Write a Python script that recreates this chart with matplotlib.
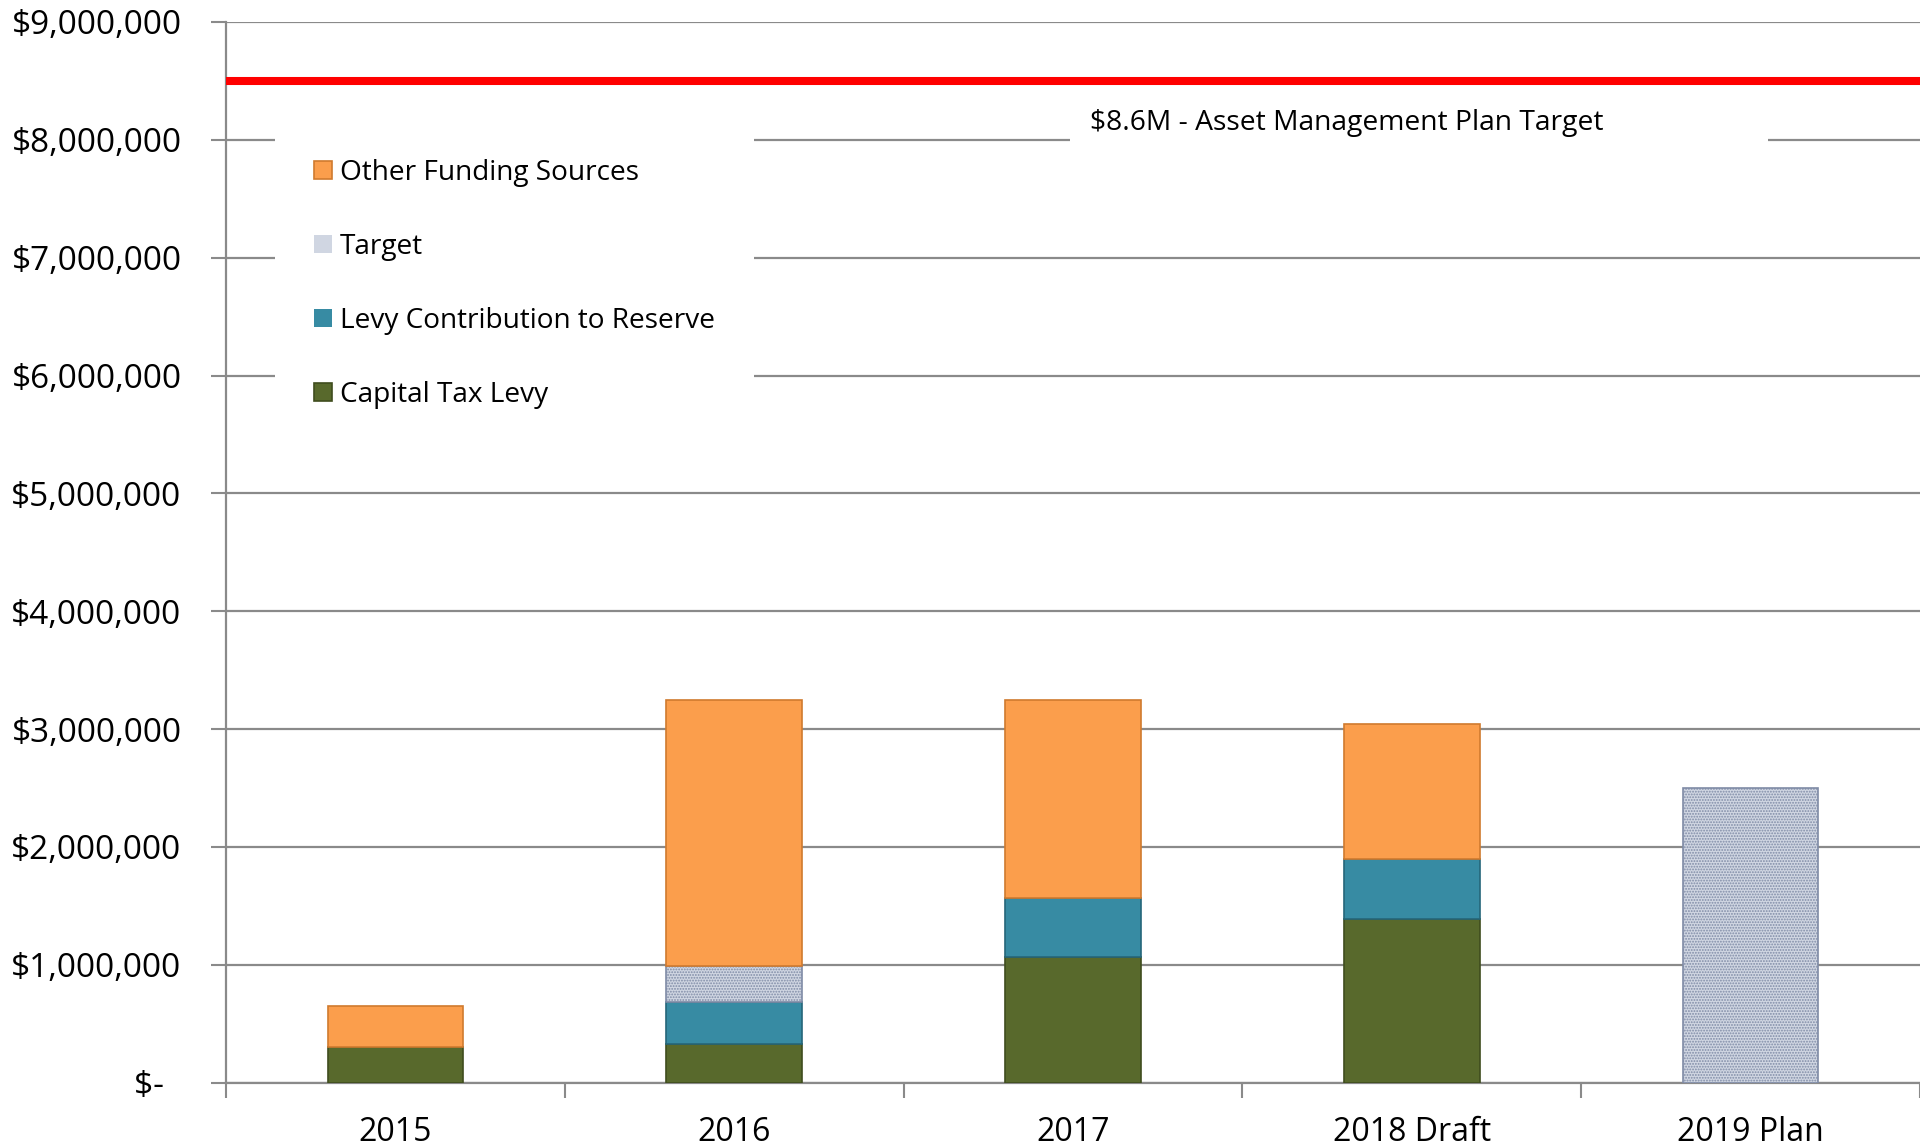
import matplotlib
matplotlib.use("Agg")
import matplotlib.pyplot as plt
from matplotlib.patches import Rectangle
import numpy as np

# ---- data ----
categories = ["2015", "2016", "2017", "2018 Draft", "2019 Plan"]
capital_tax_levy = [300000, 330000, 1065000, 1390000, 0]
levy_contribution = [0, 350000, 500000, 505000, 0]
target = [0, 310000, 0, 0, 2500000]
other_funding = [350000, 2260000, 1680000, 1145000, 0]
amp_target_value = 8500000
amp_label = "$8.6M - Asset Management Plan Target"
y_ticks = [0, 1000000, 2000000, 3000000, 4000000, 5000000, 6000000, 7000000, 8000000, 9000000]
y_tick_labels = ["$-  ", "$1,000,000", "$2,000,000", "$3,000,000", "$4,000,000",
                 "$5,000,000", "$6,000,000", "$7,000,000", "$8,000,000", "$9,000,000"]

plt.rcParams["font.family"] = ["Open Sans", "DejaVu Sans"]
plt.rcParams["hatch.linewidth"] = 0.9

fig = plt.figure(figsize=(19.2, 11.48), dpi=100)
ax = fig.add_axes([226 / 1920, 1 - 1082.5 / 1148, 1 - 226 / 1920, (1082.5 - 22) / 1148])

x = np.arange(len(categories))
width = 0.40
grid_c = "#8a8a8a"

series = [
    ("Capital Tax Levy", capital_tax_levy, "#58692c", "#3f4d1e", None),
    ("Levy Contribution to Reserve", levy_contribution, "#378ba3", "#25667a", None),
    ("Target", target, "#d0d6e2", "#7f8ba6", "......"),
    ("Other Funding Sources", other_funding, "#fb9e4c", "#d07a2e", None),
]

bottom = np.zeros(len(categories))
handles = []
for name, vals, fc, ec, hatch in series:
    vals = np.array(vals, dtype=float)
    ecs = [ec if v > 0 else "none" for v in vals]
    bars = ax.bar(x, vals, width, bottom=bottom, color=fc, edgecolor=ecs,
                  linewidth=1.2, hatch=hatch, label=name, zorder=3)
    handles.append(bars)
    bottom += vals

# AMP target line
ax.plot([-0.5, len(categories) - 0.5], [amp_target_value, amp_target_value],
        color="#ff0000", linewidth=5.8, zorder=4, solid_capstyle="butt", clip_on=False)

# label with white background
ax.add_patch(Rectangle((1.99, 7.8e6), 2.06, 0.55e6, facecolor="white",
                       edgecolor="none", zorder=2.5))
ax.text(2.05, 8.14e6, amp_label, fontsize=20.3, va="center", ha="left", zorder=5)

ax.set_xlim(-0.5, len(categories) - 0.5)
ax.set_ylim(0, 9000000)
ax.set_yticks(y_ticks)
ax.set_yticklabels(y_tick_labels, fontsize=24)
ax.tick_params(axis="y", length=11, width=1.5, color=grid_c, pad=21)

ax.set_xticks(np.arange(-0.5, len(categories), 1.0))
ax.set_xticklabels([])
ax.tick_params(axis="x", which="major", length=11, width=1.5, color=grid_c)
ax.set_xticks(x, minor=True)
ax.set_xticklabels(categories, minor=True, fontsize=23)
ax.tick_params(axis="x", which="minor", length=0, pad=24)

ax.yaxis.grid(True, color=grid_c, linewidth=1.6, zorder=0)
ax.set_axisbelow(True)
for s in ["top", "right"]:
    ax.spines[s].set_visible(False)
for s in ["left", "bottom"]:
    ax.spines[s].set_color(grid_c)
    ax.spines[s].set_linewidth(1.6)

leg = ax.legend(handles[::-1], [h.get_label() for h in handles[::-1]],
                loc="upper left", bbox_to_anchor=(0.029, 0.908), fontsize=20.2,
                frameon=True, facecolor="white", edgecolor="none", framealpha=1,
                fancybox=False, handlelength=0.62, handleheight=0.62,
                handletextpad=0.3, labelspacing=1.64, borderpad=1.4,
                borderaxespad=0)
leg.set_zorder(2.6)

fig.savefig("out.png", dpi=100)
